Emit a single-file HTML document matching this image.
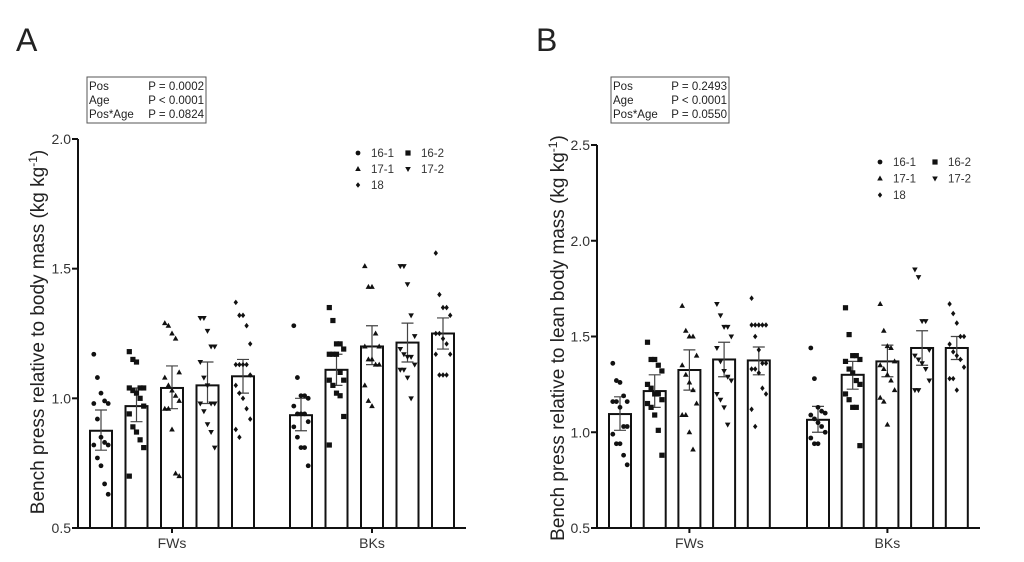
<!DOCTYPE html>
<html><head><meta charset="utf-8">
<style>
html,body{margin:0;padding:0;background:#fff;}
svg{display:block;font-family:"Liberation Sans",Arial,sans-serif;}
</style></head>
<body>
<svg id="fig" width="1024" height="562" viewBox="0 0 1024 562" xmlns="http://www.w3.org/2000/svg">
<text x="16" y="51" font-size="32" fill="#222">A</text>
<text x="536" y="51" font-size="32" fill="#222">B</text>
<g id="pa"></g>
<g id="pb"></g>
</svg>
<script>
// ---- Panel A data ----
const groupsA = ["FWs","BKs"];
const legendLabels = ["16-1","16-2","17-1","17-2","18"];
const ticksA = ["0.5","1.0","1.5","2.0"];
const tickValsA = [0.5,1.0,1.5,2.0];
const meansA = [0.875,0.97,1.04,1.05,1.085,0.935,1.11,1.2,1.215,1.25];
const errHiA = [0.955,1.04,1.125,1.14,1.15,1.0,1.17,1.28,1.29,1.31];
const errLoA = [0.80,0.91,0.96,0.98,1.02,0.875,1.05,1.13,1.14,1.19];
const pointsA = [
 [1.17,1.08,1.02,0.99,0.98,0.98,0.92,0.85,0.83,0.82,0.82,0.77,0.74,0.67,0.63],
 [1.18,1.15,1.14,1.04,1.04,1.04,1.03,1.02,1.0,0.97,0.94,0.89,0.87,0.84,0.81,0.70],
 [1.29,1.28,1.25,1.23,1.10,1.08,1.05,1.03,1.01,0.99,0.96,0.96,0.88,0.71,0.70],
 [1.31,1.31,1.26,1.2,1.2,1.14,1.08,1.05,0.98,0.98,0.98,0.95,0.9,0.87,0.81],
 [1.37,1.32,1.32,1.28,1.21,1.13,1.13,1.13,1.13,1.09,1.05,1.02,1.0,0.96,0.92,0.88,0.85],
 [1.28,1.08,1.01,1.01,1.0,0.97,0.94,0.94,0.94,0.91,0.89,0.85,0.81,0.81,0.74],
 [1.35,1.3,1.21,1.21,1.19,1.17,1.17,1.17,1.1,1.07,1.07,1.05,1.02,1.01,0.93,0.82],
 [1.51,1.43,1.43,1.25,1.2,1.2,1.15,1.15,1.13,1.13,1.05,0.99,0.97],
 [1.51,1.51,1.44,1.32,1.24,1.19,1.17,1.16,1.16,1.13,1.11,1.11,1.08,1.0],
 [1.56,1.4,1.35,1.35,1.32,1.25,1.25,1.23,1.21,1.17,1.17,1.09,1.09,1.09]
];
// ---- Panel B data ----
const ticksB = ["0.5","1.0","1.5","2.0","2.5"];
const tickValsB = [0.5,1.0,1.5,2.0,2.5];
const meansB = [1.095,1.215,1.325,1.38,1.375,1.065,1.30,1.37,1.44,1.44];
const errHiB = [1.185,1.30,1.43,1.47,1.445,1.135,1.37,1.455,1.53,1.50];
const errLoB = [1.01,1.13,1.22,1.29,1.30,1.0,1.225,1.29,1.35,1.38];
const pointsB = [
 [1.36,1.27,1.26,1.19,1.16,1.16,1.16,1.13,1.03,1.03,0.99,0.94,0.94,0.88,0.83],
 [1.47,1.38,1.38,1.35,1.32,1.25,1.23,1.2,1.2,1.17,1.15,1.13,1.09,1.01,0.88],
 [1.66,1.53,1.5,1.5,1.4,1.35,1.3,1.26,1.22,1.15,1.09,1.09,1.0,0.91],
 [1.67,1.61,1.55,1.55,1.5,1.44,1.37,1.32,1.29,1.27,1.2,1.17,1.13,1.04],
 [1.7,1.56,1.56,1.56,1.56,1.56,1.5,1.43,1.36,1.36,1.33,1.33,1.31,1.23,1.2,1.12,1.03],
 [1.44,1.28,1.13,1.11,1.1,1.09,1.07,1.05,1.03,1.0,0.97,0.94,0.94],
 [1.65,1.51,1.4,1.4,1.38,1.37,1.33,1.31,1.27,1.25,1.2,1.17,1.13,1.13,0.93],
 [1.67,1.53,1.45,1.44,1.37,1.35,1.33,1.3,1.27,1.22,1.18,1.16,1.04],
 [1.85,1.81,1.58,1.58,1.43,1.4,1.38,1.36,1.33,1.27,1.22,1.22],
 [1.67,1.62,1.57,1.5,1.5,1.46,1.42,1.4,1.38,1.34,1.28,1.28,1.22]
];
const statsA = [["Pos","P = 0.0002"],["Age","P < 0.0001"],["Pos*Age","P = 0.0824"]];
const statsB = [["Pos","P = 0.2493"],["Age","P < 0.0001"],["Pos*Age","P = 0.0550"]];

const NS="http://www.w3.org/2000/svg";
function mk(parent,tag,attrs){const e=document.createElementNS(NS,tag);for(const k in attrs)e.setAttribute(k,attrs[k]);parent.appendChild(e);return e;}

function drawPanel(g,cfg){
  const yScale=v=>cfg.y0-(v-cfg.vmin)/(cfg.vmax-cfg.vmin)*(cfg.y0-cfg.y1);
  const xBar=i=>(i<5?cfg.bx0+i*cfg.step:cfg.bx1+(i-5)*cfg.step);
  const ax=mk(g,'line',{x1:cfg.ax,y1:cfg.y1,x2:cfg.ax,y2:cfg.y0+1,stroke:'#111','stroke-width':2});
  
  const xa=mk(g,'line',{x1:cfg.ax-1,y1:cfg.y0,x2:cfg.axEnd,y2:cfg.y0,stroke:'#111','stroke-width':2});
  
  cfg.tickVals.forEach((v,i)=>{
    const y=yScale(v);
    const t=mk(g,'line',{x1:cfg.ax-6,y1:y,x2:cfg.ax,y2:y,stroke:'#111','stroke-width':2});
    
    const l=mk(g,'text',{x:cfg.ax-7,y:y+5,'font-size':14,'text-anchor':'end',fill:'#333'});
    l.textContent=cfg.ticks[i];
    
  });
  for(let i=0;i<10;i++){
    const x=xBar(i), w=cfg.bw, yt=yScale(cfg.means[i]);
    const r=mk(g,'rect',{x:x,y:yt,width:w,height:cfg.y0-yt,fill:'#fff',stroke:'#111','stroke-width':2});
    
    const cx=x+w/2, yh=yScale(cfg.errHi[i]), yl=yScale(cfg.errLo[i]);
    const e=mk(g,'path',{d:`M${cx},${yl}V${yh}M${cx-6},${yh}H${cx+6}M${cx-6},${yl}H${cx+6}`,stroke:'#444','stroke-width':1.2,fill:'none'});
    
    cfg.points[i].forEach((v,j)=>{
      const px=cx+((j%5)-2)*3.6, py=yScale(v);
      const m=marker(g,i%5,px,py);
      
    });
  }
  [0,5].forEach((s,k)=>{
    const c=(xBar(s)+xBar(s+4)+cfg.bw)/2;
    const t=mk(g,'line',{x1:c,y1:cfg.y0,x2:c,y2:cfg.y0+5,stroke:'#111','stroke-width':2});
    
    const l=mk(g,'text',{x:c,y:cfg.y0+20,'font-size':14,'text-anchor':'middle',fill:'#333'});
    l.textContent=groupsA[k];
    
  });
  const yt=mk(g,'text',{x:0,y:0,'font-size':19,'text-anchor':'middle',fill:'#222',transform:`translate(${cfg.titleX},${cfg.titleY}) rotate(-90)`});
  yt.innerHTML=cfg.title+' (kg kg<tspan dy="-7" font-size="12">-1</tspan><tspan dy="7">)</tspan>';
  
  const lg=mk(g,'g',{});
  
  const pos=[[0,0],[1,0],[0,1],[1,1],[0,2]];
  pos.forEach((p,k)=>{
    const mx=cfg.lx+p[0]*cfg.lcol, my=cfg.ly+p[1]*cfg.lrow;
    const m=marker(lg,k,mx,my);
    
    const t=mk(lg,'text',{x:mx+13,y:my+4,'font-size':11.5,fill:'#333'});
    t.textContent=legendLabels[k];
    
  });
  const sb=mk(g,'g',{});
  
  const rb=mk(sb,'rect',{x:cfg.sx,y:77,width:cfg.sw,height:46,fill:'#fff',stroke:'#555','stroke-width':1});
  
  cfg.stats.forEach((s,k)=>{
    const a=mk(sb,'text',{x:cfg.sx+2,y:90+k*14,'font-size':11.5,fill:'#222'});a.textContent=s[0];
    
    const b=mk(sb,'text',{x:cfg.sx+cfg.sw-2,y:90+k*14,'font-size':11.5,fill:'#222','text-anchor':'end'});b.textContent=s[1];
    
  });
}
function marker(g,type,x,y){
  if(type===0) return mk(g,'circle',{cx:x,cy:y,r:2.4,fill:'#111'});
  if(type===1) return mk(g,'rect',{x:x-2.6,y:y-2.6,width:5.2,height:5.2,fill:'#111'});
  if(type===2) return mk(g,'path',{d:`M${x},${y-3}L${x+2.8},${y+2}L${x-2.8},${y+2}Z`,fill:'#111'});
  if(type===3) return mk(g,'path',{d:`M${x},${y+3}L${x+2.8},${y-2}L${x-2.8},${y-2}Z`,fill:'#111'});
  return mk(g,'path',{d:`M${x},${y-2.8}L${x+2.2},${y}L${x},${y+2.8}L${x-2.2},${y}Z`,fill:'#111'});
}
drawPanel(document.getElementById('pa'),{
  vmin:0.5,vmax:2.0,y0:528,y1:139,ax:78,axEnd:466,bx0:90,bx1:290,step:35.5,bw:22,
  means:meansA,errHi:errHiA,errLo:errLoA,points:pointsA,ticks:ticksA,tickVals:tickValsA,
  title:'Bench press relative to body mass',titleX:44,titleY:332,
  lx:358,ly:153,lcol:50,lrow:16,stats:statsA,sx:87,sw:119});
drawPanel(document.getElementById('pb'),{
  vmin:0.5,vmax:2.5,y0:528,y1:145,ax:597,axEnd:980,bx0:609,bx1:807,step:34.7,bw:22,
  means:meansB,errHi:errHiB,errLo:errLoB,points:pointsB,ticks:ticksB,tickVals:tickValsB,
  title:'Bench press relative to lean body mass',titleX:564,titleY:338,
  lx:880,ly:162,lcol:55,lrow:16.5,stats:statsB,sx:611,sw:118});
</script>
</body></html>
